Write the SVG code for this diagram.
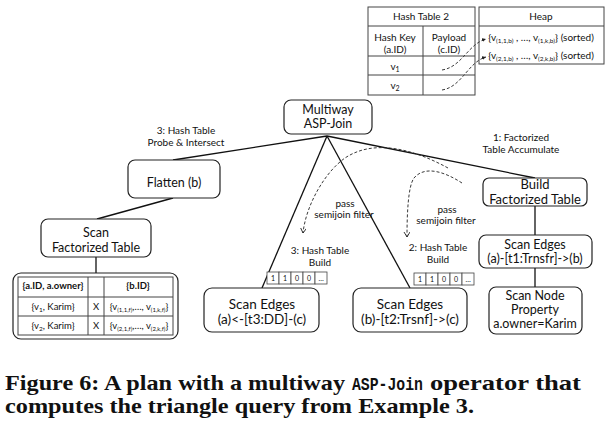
<svg xmlns="http://www.w3.org/2000/svg" width="614" height="427" viewBox="0 0 614 427">
<defs>
<style>
.t{font-family:Lato,"Liberation Sans",sans-serif;fill:#111;text-anchor:middle}
.n{font-size:12.5px}
.m{font-size:13.5px}
.k{font-size:13px}
.l{font-size:10px}
.s{font-size:9.5px}
.b{font-weight:bold}
.d{font-size:7px}
.box{fill:#fff;stroke:#222;stroke-width:1.2}
.ln{stroke:#111;stroke-width:1.3;fill:none}
.dash{stroke:#222;stroke-width:0.9;fill:none;stroke-dasharray:3 2}
.grid{fill:none;stroke:#444;stroke-width:1}
.cell{fill:#fff;stroke:#444;stroke-width:0.8}
.cap{font-family:"Liberation Serif",serif;font-weight:bold;font-size:22px;fill:#111}
.mono{font-family:"Liberation Mono","DejaVu Sans Mono",monospace;font-weight:bold;font-size:18px;fill:#111}
</style>
<marker id="chev" markerWidth="8" markerHeight="8" refX="5" refY="3" orient="auto" markerUnits="userSpaceOnUse"><path d="M0,0 L5,3 L0,6" fill="none" stroke="#222" stroke-width="0.9"/></marker>
<marker id="tri" markerWidth="6" markerHeight="6" refX="4" refY="2" orient="auto" markerUnits="userSpaceOnUse"><path d="M0,0 L4,2 L0,4Z" fill="#222"/></marker>
</defs>
<rect width="614" height="427" fill="#fff"/>

<g id="connectors">
<path class="ln" d="M327,136 L173,160"/>
<path class="ln" d="M327,136 L262,288"/>
<path class="ln" d="M327,136 L410,288"/>
<path class="ln" d="M327,136 L535,178"/>
<path class="ln" d="M173,198 L97,219"/>
<path class="ln" d="M96,257 L96,273"/>
<path class="ln" d="M535,206 L535,235"/>
<path class="ln" d="M535,268 L535,287"/>
<path class="dash" d="M448,168 C415,150 375,138 345,158 C325,172 306,205 303,233" marker-end="url(#chev)"/>
<path class="dash" d="M462,183 C445,172 425,165 414,178 C408,186 407,215 407,237" marker-end="url(#chev)"/>
<path class="dash" d="M442,70 C462,67 468,44 486,39" marker-end="url(#tri)"/>
<path class="dash" d="M442,90 C462,87 468,62 486,57" marker-end="url(#tri)"/>
</g>

<g id="labels">
<text class="t l" x="186" y="134">3: Hash Table</text>
<text class="t l" x="186" y="146">Probe &amp; Intersect</text>
<text class="t l" x="521" y="141">1: Factorized</text>
<text class="t l" x="521" y="153">Table Accumulate</text>
<text class="t l" x="345" y="207">pass</text>
<text class="t l" x="344" y="218">semijoin filter</text>
<text class="t l" x="447" y="213">pass</text>
<text class="t l" x="446" y="224">semijoin filter</text>
<text class="t l" x="320" y="254">3: Hash Table</text>
<text class="t l" x="320" y="266">Build</text>
<text class="t l" x="438" y="251">2: Hash Table</text>
<text class="t l" x="438" y="263">Build</text>
</g>

<g id="hashtable2">
<rect class="grid" x="368" y="7" width="107" height="88"/>
<path class="grid" d="M368,26 H475 M368,56 H475 M368,75 H475 M423,26 V95"/>
<text class="t l" x="421" y="20">Hash Table 2</text>
<text class="t l" x="395" y="41">Hash Key</text>
<text class="t l" x="395" y="53">(a.ID)</text>
<text class="t l" x="449" y="41">Payload</text>
<text class="t l" x="449" y="53">(c.ID)</text>
<text class="t l" x="395" y="70">v<tspan font-size="7" dy="2">1</tspan></text>
<text class="t l" x="395" y="89">v<tspan font-size="7" dy="2">2</tspan></text>
</g>

<g id="heap">
<rect class="grid" x="479" y="7" width="125" height="57"/>
<path class="grid" d="M479,26 H604"/>
<text class="t l" x="541" y="20">Heap</text>
<text class="t l" x="541" y="41">{v<tspan font-size="6.5" dy="2">(1,1,b)</tspan><tspan dy="-2"> , …, v</tspan><tspan font-size="6.5" dy="2">(1,k,b)</tspan><tspan dy="-2">} (sorted)</tspan></text>
<text class="t l" x="541" y="59">{v<tspan font-size="6.5" dy="2">(2,1,b)</tspan><tspan dy="-2"> , …, v</tspan><tspan font-size="6.5" dy="2">(2,k,b)</tspan><tspan dy="-2">} (sorted)</tspan></text>
</g>

<g id="multiway">
<rect class="box" x="284" y="100" width="88" height="34" rx="7"/>
<text class="t n" x="328" y="114">Multiway</text>
<text class="t n" x="328" y="128">ASP-Join</text>
</g>

<g id="flatten">
<rect class="box" x="128" y="160" width="92" height="38" rx="7"/>
<text class="t n" x="174" y="187">Flatten (b)</text>
</g>

<g id="scanFactorized">
<rect class="box" x="41" y="219" width="110" height="38" rx="7"/>
<text class="t n" x="96" y="237">Scan</text>
<text class="t n" x="96" y="252">Factorized Table</text>
</g>

<g id="factorizedTable">
<rect class="box" x="13" y="273" width="165" height="66" rx="8"/>
<rect class="grid" x="18" y="277" width="155" height="58"/>
<path class="grid" d="M18,297 H173 M18,316 H173 M88,277 V335 M104,277 V335"/>
<text class="t s b" x="53" y="289">{a.ID, a.owner}</text>
<text class="t s b" x="138" y="289">{b.ID}</text>
<text class="t s" x="53" y="310">{v<tspan font-size="6.5" dy="2">1</tspan><tspan dy="-2">, Karim}</tspan></text>
<text class="t s" x="96" y="310">X</text>
<text class="t s" x="139" y="310">{v<tspan font-size="6" dy="2">(1,1,f)</tspan><tspan dy="-2">,…, v</tspan><tspan font-size="6" dy="2">(1,k,f)</tspan><tspan dy="-2">}</tspan></text>
<text class="t s" x="53" y="329">{v<tspan font-size="6.5" dy="2">2</tspan><tspan dy="-2">, Karim}</tspan></text>
<text class="t s" x="96" y="329">X</text>
<text class="t s" x="139" y="329">{v<tspan font-size="6" dy="2">(2,1,f)</tspan><tspan dy="-2">,…, v</tspan><tspan font-size="6" dy="2">(2,k,f)</tspan><tspan dy="-2">}</tspan></text>
</g>

<g id="build">
<rect class="box" x="483" y="178" width="104" height="28" rx="6"/>
<text class="t k" x="535" y="188.5">Build</text>
<text class="t k" x="535" y="203.5">Factorized Table</text>
</g>

<g id="scanEdgesT1">
<rect class="box" x="479" y="235" width="113" height="33" rx="7"/>
<text class="t n" x="535" y="249">Scan Edges</text>
<text class="t n" x="535" y="263">(a)-[t1:Trnsfr]-&gt;(b)</text>
</g>

<g id="scanNode">
<rect class="box" x="489" y="287" width="93" height="47" rx="7"/>
<text class="t n" x="535" y="300">Scan Node</text>
<text class="t n" x="535" y="314">Property</text>
<text class="t n" x="535" y="328">a.owner=Karim</text>
</g>

<g id="scanEdgesT3">
<rect class="box" x="204" y="288" width="115" height="44" rx="8"/>
<text class="t m" x="262" y="309">Scan Edges</text>
<text class="t m" x="262" y="324">(a)&lt;-[t3:DD]-(c)</text>
</g>

<g id="scanEdgesT2">
<rect class="box" x="353" y="288" width="114" height="44" rx="8"/>
<text class="t m" x="410" y="309">Scan Edges</text>
<text class="t m" x="410" y="324">(b)-[t2:Trsnf]-&gt;(c)</text>
</g>

<g id="bitvector3">
<rect class="cell" x="267" y="272" width="12" height="12"/>
<rect class="cell" x="279" y="272" width="12" height="12"/>
<rect class="cell" x="291" y="272" width="12" height="12"/>
<rect class="cell" x="303" y="272" width="12" height="12"/>
<rect class="cell" x="315" y="272" width="12" height="12"/>
<text class="t d" x="273" y="280.5">1</text>
<text class="t d" x="285" y="280.5">1</text>
<text class="t d" x="297" y="280.5">0</text>
<text class="t d" x="309" y="280.5">0</text>
<text class="t d" x="321" y="280.5">…</text>
</g>

<g id="bitvector2">
<rect class="cell" x="414" y="273" width="12" height="12"/>
<rect class="cell" x="426" y="273" width="12" height="12"/>
<rect class="cell" x="438" y="273" width="12" height="12"/>
<rect class="cell" x="450" y="273" width="12" height="12"/>
<rect class="cell" x="462" y="273" width="12" height="12"/>
<text class="t d" x="420" y="281.5">1</text>
<text class="t d" x="432" y="281.5">1</text>
<text class="t d" x="444" y="281.5">0</text>
<text class="t d" x="456" y="281.5">0</text>
<text class="t d" x="468" y="281.5">…</text>
</g>

<g id="caption">
<text class="cap" x="5" y="390" textLength="340" lengthAdjust="spacingAndGlyphs">Figure 6: A plan with a multiway</text>
<text class="mono" x="352" y="390" textLength="71" lengthAdjust="spacingAndGlyphs">ASP-Join</text>
<text class="cap" x="430" y="390" textLength="151" lengthAdjust="spacingAndGlyphs">operator that</text>
<text class="cap" x="5" y="413" textLength="469" lengthAdjust="spacingAndGlyphs">computes the triangle query from Example 3.</text>
</g>
</svg>
